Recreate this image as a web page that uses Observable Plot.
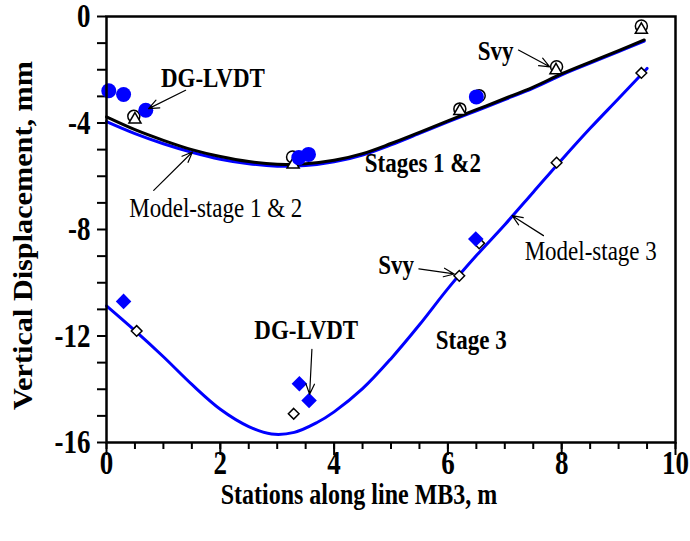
<!DOCTYPE html>
<html>
<head>
<meta charset="utf-8">
<script src="https://cdn.jsdelivr.net/npm/d3@7"></script>
<script src="https://cdn.jsdelivr.net/npm/@observablehq/plot@0.6"></script>
<style>
  html, body { margin: 0; padding: 0; background: white; }
</style>
</head>
<body>
<div id="chart"></div>
<script>
// ---- data ----
const modelBlackX = [0, 0.5, 1.0, 1.5, 2.0, 2.5, 3.0, 3.5, 4.0, 4.5, 5.0, 5.5, 6.0, 6.5, 7.0, 7.5, 8.0, 8.5, 9.0, 9.45];
const modelBlackY = [-3.77, -4.25, -4.65, -5.0, -5.26, -5.45, -5.55, -5.53, -5.40, -5.15, -4.77, -4.35, -3.92, -3.50, -3.08, -2.65, -2.15, -1.71, -1.28, -0.88];
const modelBlue12Y = [-3.95, -4.40, -4.78, -5.10, -5.36, -5.53, -5.62, -5.60, -5.46, -5.20, -4.82, -4.39, -3.96, -3.54, -3.12, -2.69, -2.19, -1.75, -1.32, -0.92];
const model3X = [0, 0.5, 1.0, 1.5, 2.0, 2.5, 2.9, 3.3, 3.7, 4.0, 4.5, 5.0, 5.5, 6.0, 6.5, 7.0, 7.5, 8.0, 8.5, 9.0, 9.5];
const model3Y = [-10.87, -11.80, -12.78, -13.82, -14.75, -15.40, -15.68, -15.62, -15.25, -14.85, -13.98, -12.85, -11.58, -10.22, -8.98, -7.82, -6.60, -5.38, -4.20, -3.08, -1.95];

const svyCircleX = [0.48, 3.27, 6.21, 6.55, 7.91, 9.40];
const svyCircleY = [-3.75, -5.28, -3.47, -2.98, -1.89, -0.36];
const svyTriX = [0.50, 3.28, 6.21, 7.90, 9.40];
const svyTriY = [-3.87, -5.56, -3.55, -2.02, -0.50];
const lvdt12X = [0.04, 0.30, 0.69, 3.38, 3.55, 6.50];
const lvdt12Y = [-2.79, -2.93, -3.52, -5.30, -5.18, -3.02];
const lvdt3X = [0.30, 3.39, 3.56, 6.49];
const lvdt3Y = [-10.70, -13.79, -14.42, -8.36];
const svy3X = [0.53, 3.29, 6.20, 6.55, 7.91, 9.40];
const svy3Y = [-11.81, -14.92, -9.74, -8.52, -5.49, -2.12];

const xMajor = [0, 2, 4, 6, 8, 10];
const xMinor = d3.range(0, 10.001, 0.5);
const yMajor = [-16, -12, -8, -4, 0];
const yMinor = d3.range(-16, 0.001, 1);

const boldLabels = [
  {x: 1.87, y: -2.30, text: "DG-LVDT"},
  {x: 6.84, y: -1.30, text: "Svy"},
  {x: 5.56, y: -5.52, text: "Stages 1 &2"},
  {x: 5.09, y: -9.32, text: "Svy"},
  {x: 3.51, y: -11.77, text: "DG-LVDT"},
  {x: 6.41, y: -12.15, text: "Stage 3"}
];
const plainLabels = [
  {x: 1.92, y: -7.18, text: "Model-stage 1 & 2"},
  {x: 8.51, y: -8.80, text: "Model-stage 3"}
];
const arrows = [
  {x1: 1.39, y1: -2.77, x2: 0.74, y2: -3.46},
  {x1: 7.24, y1: -1.26, x2: 7.79, y2: -1.89},
  {x1: 0.83, y1: -6.53, x2: 1.51, y2: -5.09},
  {x1: 7.68, y1: -8.23, x2: 7.13, y2: -7.48},
  {x1: 5.49, y1: -9.48, x2: 6.11, y2: -9.67},
  {x1: 3.61, y1: -12.50, x2: 3.57, y2: -14.19}
];

// ---- tables ----
const zip = (xs, ys) => xs.map((x, i) => ({x, y: ys[i]}));
const black12 = zip(modelBlackX, modelBlackY);
const blue12 = zip(modelBlackX, modelBlue12Y);
const blue3 = zip(model3X, model3Y);

const font = "'Liberation Serif', 'Times New Roman', serif";

const chart = Plot.plot({
  width: 690,
  height: 541,
  marginLeft: 106,
  marginRight: 15,
  marginTop: 16,
  marginBottom: 99,
  x: {domain: [0, 10], label: null},
  y: {domain: [-16, 0], label: null},
  style: {fontFamily: font, background: "white", color: "black"},
  marks: [
    Plot.axisX({ticks: xMinor, tickSize: 7, strokeWidth: 2, tickFormat: () => "", label: null}),
    Plot.axisX({ticks: xMajor, tickSize: 13, strokeWidth: 2, tickFormat: () => "", label: null}),
    Plot.axisX({ticks: xMajor, tickSize: 0, tickPadding: 10, fontSize: 27, fontWeight: "bold", tickFormat: d => String(d), label: null}),
    Plot.axisY({ticks: yMinor, tickSize: 9, strokeWidth: 2, tickFormat: () => "", label: null}),
    Plot.axisY({ticks: yMajor, tickSize: 0, tickPadding: 16, fontSize: 27, fontWeight: "bold", tickFormat: d => String(d), label: null}),
    Plot.line(blue12, {x: "x", y: "y", curve: "catmull-rom", stroke: "#0000ff", strokeWidth: 3}),
    Plot.line(black12, {x: "x", y: "y", curve: "catmull-rom", stroke: "black", strokeWidth: 3}),
    Plot.line(blue3, {x: "x", y: "y", curve: "catmull-rom", stroke: "#0000ff", strokeWidth: 3}),
    Plot.dot(zip(svyCircleX, svyCircleY), {x: "x", y: "y", r: 6, fill: "white", stroke: "black", strokeWidth: 1.5}),
    Plot.dot(zip(svyTriX, svyTriY), {x: "x", y: "y", symbol: "triangle", r: 4.5, fill: "white", stroke: "black", strokeWidth: 1.5}),
    Plot.dot(zip(lvdt12X, lvdt12Y), {x: "x", y: "y", r: 7.5, fill: "#0000ff", stroke: "none"}),
    Plot.dot(zip(svy3X, svy3Y), {x: "x", y: "y", symbol: "diamond2", r: 4.8, fill: "white", stroke: "black", strokeWidth: 1.5}),
    Plot.dot(zip(lvdt3X, lvdt3Y), {x: "x", y: "y", symbol: "diamond2", r: 7, fill: "#0000ff", stroke: "none"}),
    Plot.arrow(arrows, {x1: "x1", y1: "y1", x2: "x2", y2: "y2", stroke: "black", strokeWidth: 1.2, headLength: 14, headAngle: 45}),
    Plot.text(boldLabels, {x: "x", y: "y", text: "text", fontSize: 23, fontWeight: "bold", fill: "black"}),
    Plot.text(plainLabels, {x: "x", y: "y", text: "text", fontSize: 23, fill: "black"}),
    Plot.text(["Stations along line MB3, m"], {frameAnchor: "bottom", lineAnchor: "middle", textAnchor: "middle", dx: -32, dy: 52, fontSize: 24, fontWeight: "bold", fill: "black"}),
    Plot.text(["Vertical Displacement, mm"], {frameAnchor: "left", lineAnchor: "middle", textAnchor: "middle", dx: -83, dy: 6, rotate: -90, fontSize: 28, fontWeight: "bold", fill: "black"}),
    Plot.frame({stroke: "black", strokeWidth: 2.5})
  ]
});
document.getElementById("chart").appendChild(chart);

// The reference's lettering is taller than it is wide: stretch each text along the vertical.
const stretch = 1.22;
d3.select(chart).selectAll("text").each(function () {
  const t = this.getAttribute("transform");
  if (t && t.includes("rotate")) {
    this.setAttribute("transform", `${t} scale(1.08,1)`);
  } else {
    const b = this.getBBox();
    const cy = b.y + b.height / 2;
    this.setAttribute("transform", `${t || ""} translate(0,${cy}) scale(1,${stretch}) translate(0,${-cy})`.trim());
  }
});
</script>
</body>
</html>
